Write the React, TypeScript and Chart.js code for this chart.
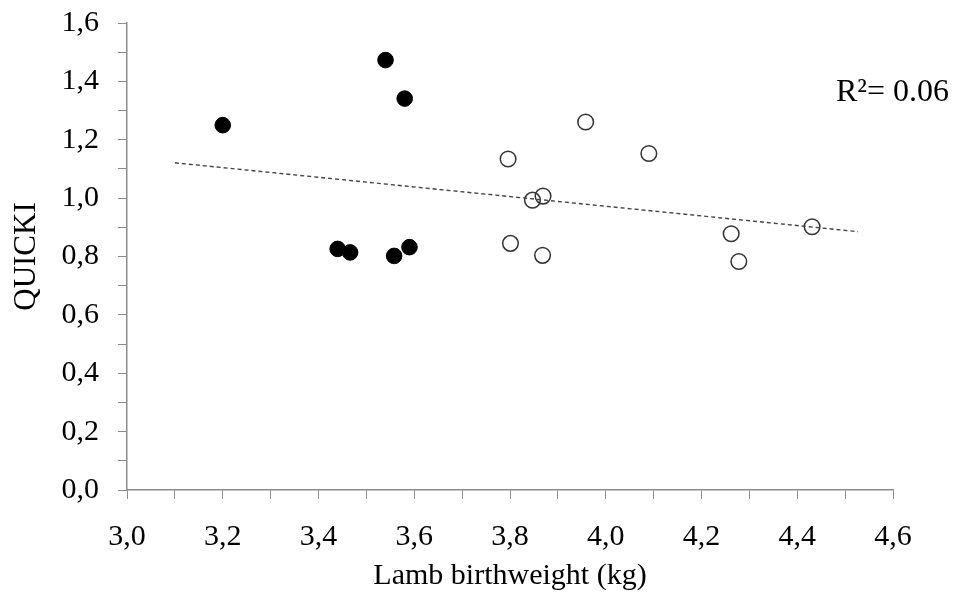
import React, { useEffect, useRef } from "react";
import { Chart, registerables } from "chart.js";

Chart.register(...registerables);

// Filled circles (group 1)
const groupAX = [3.20, 3.54, 3.58, 3.44, 3.466, 3.558, 3.59];
const groupAY = [1.25, 1.473, 1.341, 0.826, 0.814, 0.802, 0.832];
// Open circles (group 2)
const groupBX = [3.796, 3.958, 3.847, 3.869, 3.801, 3.868, 4.09, 4.262, 4.278, 4.431];
const groupBY = [1.134, 1.261, 0.993, 1.007, 0.845, 0.804, 1.153, 0.878, 0.783, 0.902];
// Trend line end points
const trendX = [3.1, 4.527];
const trendY = [1.121, 0.885];

const xTitle = "Lamb birthweight (kg)";
const yTitle = "QUICKI";
const r2Label = "R²= 0.06";

const FONT = "'Liberation Serif', 'Times New Roman', serif";

const zip = (xs: number[], ys: number[]) => xs.map((x, i) => ({ x, y: ys[i] }));

const r2Plugin = {
  id: "r2text",
  afterDraw(chart: any) {
    const ctx = chart.ctx;
    const ys = chart.scales.y;
    ctx.save();
    ctx.font = `32px ${FONT}`;
    ctx.fillStyle = "#000";
    ctx.textAlign = "right";
    ctx.textBaseline = "alphabetic";
    ctx.fillText(r2Label, chart.width - 6, ys.getPixelForValue(1.4) + 20);
    ctx.restore();
  },
};

export default function App() {
  const ref = useRef<HTMLCanvasElement>(null);
  useEffect(() => {
    document.body.style.margin = "0";
    const fmt = (v: number) => {
      const t = Math.round(v * 10);
      return t % 2 === 0 ? (t / 10).toFixed(1).replace(".", ",") : "";
    };
    const axisColor = "#8c8c8c";
    const chart = new Chart(ref.current!, {
      type: "scatter",
      data: {
        datasets: [
          {
            type: "line",
            data: zip(trendX, trendY),
            borderColor: "#444",
            borderWidth: 1.4,
            borderDash: [4, 3],
            pointRadius: 0,
            fill: false,
          } as any,
          {
            data: zip(groupBX, groupBY),
            backgroundColor: "rgba(0,0,0,0)",
            borderColor: "#333",
            borderWidth: 1.5,
            pointRadius: 7.8,
          },
          {
            data: zip(groupAX, groupAY),
            backgroundColor: "#000",
            borderColor: "#000",
            borderWidth: 1,
            pointRadius: 7.8,
          },
        ],
      },
      options: {
        animation: false,
        responsive: true,
        maintainAspectRatio: false,
        layout: { padding: { left: 0, right: 62, top: 23, bottom: 0 } },
        plugins: { legend: { display: false }, tooltip: { enabled: false } },
        scales: {
          x: {
            type: "linear",
            min: 3.0,
            max: 4.6,
            ticks: {
              stepSize: 0.1,
              autoSkip: false,
              maxRotation: 0,
              color: "#000",
              font: { family: FONT, size: 30 },
              padding: 20,
              callback: (v: any) => fmt(Number(v)),
            },
            grid: {
              drawOnChartArea: false,
              drawTicks: true,
              tickLength: 9,
              color: axisColor,
              tickColor: axisColor,
            },
            border: { color: axisColor, width: 1.5 },
            title: {
              display: true,
              text: xTitle,
              color: "#000",
              font: { family: FONT, size: 30 },
              padding: { top: 0, bottom: 0 },
            },
            afterFit: (s: any) => {
              s.height = 104;
              s.paddingLeft = 0;
              s.paddingRight = 0;
            },
          },
          y: {
            type: "linear",
            min: 0,
            max: 1.6,
            ticks: {
              stepSize: 0.1,
              autoSkip: false,
              color: "#000",
              font: { family: FONT, size: 30 },
              padding: 19,
              callback: (v: any) => fmt(Number(v)),
            },
            grid: {
              drawOnChartArea: false,
              drawTicks: true,
              tickLength: 9,
              color: axisColor,
              tickColor: axisColor,
            },
            border: { color: axisColor, width: 1.5 },
            title: {
              display: true,
              text: yTitle,
              color: "#000",
              font: { family: FONT, size: 31 },
              padding: { top: 8, bottom: 0 },
            },
            afterFit: (s: any) => {
              s.width = 127;
              s.paddingTop = 0;
              s.paddingBottom = 0;
            },
          },
        },
      },
      plugins: [r2Plugin],
    });
    return () => chart.destroy();
  }, []);
  return (
    <div style={{ width: 955, height: 594, position: "relative", background: "#fff" }}>
      <canvas ref={ref} />
    </div>
  );
}
